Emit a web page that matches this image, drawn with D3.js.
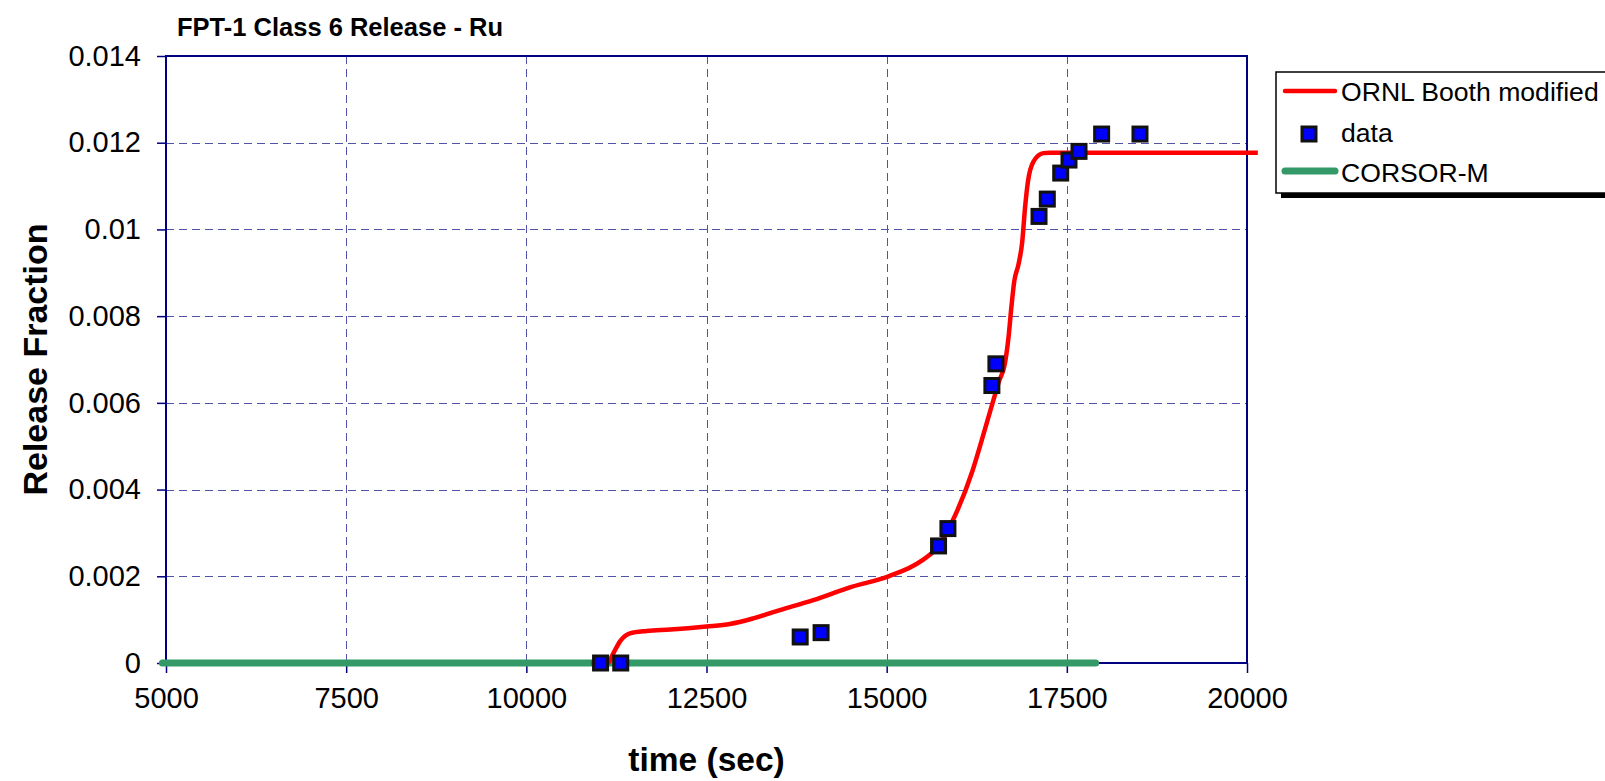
<!DOCTYPE html>
<html>
<head>
<meta charset="utf-8">
<script src="https://cdn.jsdelivr.net/npm/d3@7"></script>
<style>
  html, body { margin: 0; padding: 0; background: #fff; }
  svg { display: block; font-family: "Liberation Sans", Arial, Helvetica, sans-serif; }
</style>
</head>
<body>
<svg id="chart" width="1605" height="781"></svg>
<script>
// Axis ticks
const xTicks = [5000, 7500, 10000, 12500, 15000, 17500, 20000];
const yTicks = [0, 0.002, 0.004, 0.006, 0.008, 0.01, 0.012, 0.014];

// ORNL Booth modified model curve
const ornlTime = [10900, 11130, 11200, 11300, 11438, 11670, 12000, 12500, 12826, 13150, 13520, 13982,
  14500, 15025, 15476, 15720, 15906, 16190, 16360, 16470, 16560, 16640, 16690, 16730, 16770, 16830,
  16880, 16920, 16960, 17035, 17173, 17266, 18000, 19000, 20150];
const ornlFraction = [0, 0, 0.0002, 0.0005, 0.000685, 0.00074, 0.00077, 0.00084, 0.0009, 0.00103, 0.00122, 0.00145,
  0.00175, 0.002, 0.00235, 0.0027, 0.00325, 0.00443, 0.00537, 0.006, 0.0065, 0.0069, 0.0075, 0.0082, 0.0088, 0.0092,
  0.0097, 0.0105, 0.0111, 0.01156, 0.01176, 0.01177, 0.01177, 0.01177, 0.01177];

// Measured release fractions
const dataTime = [11030, 11310, 13800, 14090, 15720, 15850, 16460, 16516, 17114, 17229, 17415, 17530, 17669, 17983, 18515];
const dataFraction = [0, 0, 0.0006, 0.0007, 0.0027, 0.0031, 0.0064, 0.0069, 0.0103, 0.0107, 0.0113, 0.0116, 0.0118, 0.0122, 0.0122];

// CORSOR-M prediction
const corsorTime = [4950, 17900];
const corsorFraction = [0, 0];

const svg = d3.select("#chart");
const plotLeft = 166, plotRight = 1247, plotTop = 56, plotBottom = 663;

const x = d3.scaleLinear().domain([5000, 20000]).range([plotLeft, plotRight]);
const y = d3.scaleLinear().domain([0, 0.014]).range([plotBottom, plotTop]);

const navy = "#000080";
const gridColor = "#5252a8";
const red = "#ff0000";
const green = "#339966";

// Title
svg.append("text")
  .attr("x", 177).attr("y", 35.5)
  .attr("font-size", 25.5).attr("font-weight", "bold")
  .text("FPT-1 Class 6 Release - Ru");

// Gridlines
const grid = svg.append("g").attr("stroke", gridColor).attr("stroke-width", 1).attr("stroke-dasharray", "8,5");
grid.selectAll("line.v").data(xTicks.slice(1, -1)).enter().append("line")
  .attr("x1", d => Math.round(x(d)) + 0.5).attr("x2", d => Math.round(x(d)) + 0.5)
  .attr("y1", plotTop).attr("y2", plotBottom);
grid.selectAll("line.h").data(yTicks.slice(1, -1)).enter().append("line")
  .attr("y1", d => Math.round(y(d)) + 0.5).attr("y2", d => Math.round(y(d)) + 0.5)
  .attr("x1", plotLeft).attr("x2", plotRight);

// Plot frame
svg.append("rect")
  .attr("x", plotLeft).attr("y", plotTop).attr("width", plotRight - plotLeft).attr("height", plotBottom - plotTop)
  .attr("fill", "none").attr("stroke", navy).attr("stroke-width", 2);

// Axes
const xAxis = svg.append("g").attr("transform", `translate(0,${plotBottom})`)
  .call(d3.axisBottom(x).tickValues(xTicks).tickFormat(d3.format("d")).tickSize(10).tickPadding(14));
const yAxis = svg.append("g").attr("transform", `translate(${plotLeft},0)`)
  .call(d3.axisLeft(y).tickValues(yTicks).tickFormat(d => d === 0 ? "0" : String(+d.toFixed(3))).tickSize(9).tickPadding(16));
[xAxis, yAxis].forEach(g => {
  g.select(".domain").remove();
  g.selectAll(".tick line").attr("stroke", navy).attr("stroke-width", 1.5);
  g.selectAll(".tick text").attr("font-size", 29).attr("fill", "#000")
    .attr("font-family", "'Liberation Sans', Arial, sans-serif");
});

// Axis titles
svg.append("text")
  .attr("x", (plotLeft + plotRight) / 2).attr("y", 771)
  .attr("text-anchor", "middle").attr("font-size", 33.5).attr("font-weight", "bold")
  .text("time (sec)");
svg.append("text")
  .attr("transform", `translate(47,${(plotTop + plotBottom) / 2}) rotate(-90)`)
  .attr("text-anchor", "middle").attr("font-size", 34).attr("font-weight", "bold")
  .text("Release Fraction");

// Series
const line = d3.line().x(d => x(d[0])).y(d => y(d[1]));
svg.append("path")
  .datum(d3.zip(corsorTime, corsorFraction))
  .attr("d", line)
  .attr("fill", "none").attr("stroke", green).attr("stroke-width", 7).attr("stroke-linecap", "round");

svg.append("path")
  .datum(d3.zip(ornlTime, ornlFraction))
  .attr("d", line.curve(d3.curveMonotoneX))
  .attr("fill", "none").attr("stroke", red).attr("stroke-width", 4.5).attr("stroke-linejoin", "round");

const sq = 14;
svg.append("g").selectAll("rect").data(d3.zip(dataTime, dataFraction)).enter().append("rect")
  .attr("x", d => x(d[0]) - sq / 2).attr("y", d => y(d[1]) - sq / 2)
  .attr("width", sq).attr("height", sq)
  .attr("fill", "#0000ff").attr("stroke", "#111").attr("stroke-width", 3);

// Legend
const lg = svg.append("g");
lg.append("rect").attr("x", 1281).attr("y", 77).attr("width", 340).attr("height", 121).attr("fill", "#000");
lg.append("rect").attr("x", 1276).attr("y", 72).attr("width", 340).attr("height", 121)
  .attr("fill", "#fff").attr("stroke", "#000").attr("stroke-width", 1.5);

const items = [
  { label: "ORNL Booth modified", type: "line", color: red, width: 4.5, cy: 91, ty: 100.5 },
  { label: "data", type: "square", cy: 134, ty: 142 },
  { label: "CORSOR-M", type: "line", color: green, width: 7, cy: 171, ty: 181.5 }
];
items.forEach(it => {
  if (it.type === "line") {
    lg.append("line").attr("x1", 1285).attr("x2", 1335).attr("y1", it.cy).attr("y2", it.cy)
      .attr("stroke", it.color).attr("stroke-width", it.width).attr("stroke-linecap", "round");
  } else {
    lg.append("rect").attr("x", 1309 - sq / 2).attr("y", it.cy - sq / 2).attr("width", sq).attr("height", sq)
      .attr("fill", "#0000ff").attr("stroke", "#111").attr("stroke-width", 3);
  }
  lg.append("text").attr("x", 1341).attr("y", it.ty).attr("font-size", 26.6).text(it.label);
});
</script>
</body>
</html>
